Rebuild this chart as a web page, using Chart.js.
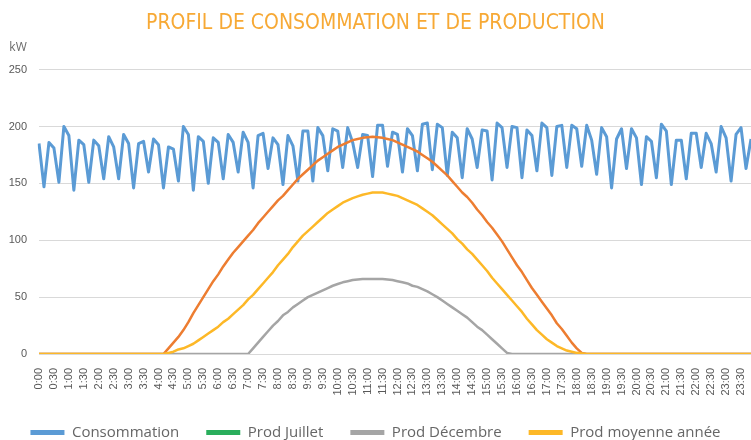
<!DOCTYPE html>
<html>
<head>
<meta charset="utf-8">
<script src="https://cdn.jsdelivr.net/npm/chart.js@4"></script>
<style>
	html, body { margin: 0; padding: 0; background: #fff; }
	#wrap { width: 751px; height: 440px; }
</style>
</head>
<body>
<div id="wrap"><canvas id="chart"></canvas></div>
<script>
'use strict';

// one slot every 10 minutes, a tick label every 30 minutes
const times = [
	'0:00','0:10','0:20','0:30','0:40','0:50', '1:00','1:10','1:20','1:30','1:40','1:50',
	'2:00','2:10','2:20','2:30','2:40','2:50', '3:00','3:10','3:20','3:30','3:40','3:50',
	'4:00','4:10','4:20','4:30','4:40','4:50', '5:00','5:10','5:20','5:30','5:40','5:50',
	'6:00','6:10','6:20','6:30','6:40','6:50', '7:00','7:10','7:20','7:30','7:40','7:50',
	'8:00','8:10','8:20','8:30','8:40','8:50', '9:00','9:10','9:20','9:30','9:40','9:50',
	'10:00','10:10','10:20','10:30','10:40','10:50', '11:00','11:10','11:20','11:30','11:40','11:50',
	'12:00','12:10','12:20','12:30','12:40','12:50', '13:00','13:10','13:20','13:30','13:40','13:50',
	'14:00','14:10','14:20','14:30','14:40','14:50', '15:00','15:10','15:20','15:30','15:40','15:50',
	'16:00','16:10','16:20','16:30','16:40','16:50', '17:00','17:10','17:20','17:30','17:40','17:50',
	'18:00','18:10','18:20','18:30','18:40','18:50', '19:00','19:10','19:20','19:30','19:40','19:50',
	'20:00','20:10','20:20','20:30','20:40','20:50', '21:00','21:10','21:20','21:30','21:40','21:50',
	'22:00','22:10','22:20','22:30','22:40','22:50', '23:00','23:10','23:20','23:30','23:40','23:50',
];

const consommation = [
	185,147,186,181,151,200,192,144,188,184,151,188,183,154,191,182,154,193,
	185,146,185,187,160,189,184,146,182,180,152,200,193,144,191,187,150,190,
	186,154,193,186,160,195,186,146,192,194,163,190,184,149,192,183,152,196,
	196,152,199,192,161,198,196,164,199,186,164,193,192,156,201,201,165,
	195,193,160,198,192,161,202,203,162,202,199,157,195,190,155,198,189,164,
	197,196,153,203,199,164,200,199,155,197,192,161,203,199,157,200,201,164,
	201,198,165,201,188,158,199,191,146,189,198,163,198,190,149,191,187,155,
	202,196,149,188,188,154,194,194,164,194,185,160,200,190,152,193,199,163,189,
];

const prodJuillet = [
	0,0,0,0,0,0,0,0,0,0,0,0,0,0,0,0,0,0,0,0,0,0,0,0,0,
	0,5,10,15,21,28,36,43,50,57,64,70,77,83,89,94,99,104,109,115,120,125,130,135,
	139,144,149,154,158,162,166,170,173,176,179,182,184,186,188,189,190,190.5,191,190.5,
	190,189,188,186,184,182,180,178,175,172,169,165,161,157,152,147,142,138,133,127,
	122,116,111,105,99,92,85,78,72,65,58,52,46,40,34,27,22,16,10,5,1,0,
	0,0,0,0,0,0,0,0,0,0,0,0,0,0,0,0,0,0,0,0,0,0,0,0,0,0,0,0,0,0,0,0,0,
];

const prodDecembre = [
	0,0,0,0,0,0,0,0,0,0,0,0,0,0,0,0,0,0,0,0,0,0,0,0,0,0,0,0,0,0,0,0,0,0,0,0,
	0,0,0,0,0,0,0,5,10,15,20,25,29,34,37,41,44,47,50,52,54,56,58,60,61.5,63,
	64,65,65.5,66,66,66,66,66,65.5,65,64,63,62,60,59,57,55,52.5,50,47,44,41,
	38,35,32,28,24,21,17,13,9,5,1,0,
	0,0,0,0,0,0,0,0,0,0,0,0,0,0,0,0,0,0,0,0,0,0,0,0,0,
	0,0,0,0,0,0,0,0,0,0,0,0,0,0,0,0,0,0,0,0,0,0,0,0,
];

const prodMoyenne = [
	0,0,0,0,0,0,0,0,0,0,0,0,0,0,0,0,0,0,0,0,0,0,0,0,0,
	0,1,2,4,5,7,9,12,15,18,21,24,28,31,35,39,43,48,52,57,62,67,72,78,
	83,88,94,99,104,108,112,116,120,124,127,130,133,135,137,138.5,140,141,142,142,
	142,141,140,139,137,135,133,131,128,125,122,118,114,110,106,101,97,92,88,83,
	78,73,67,62,57,52,47,42,37,31,26,21,17,13,10,7,5,3,2,1,0.5,0,
	0,0,0,0,0,0,0,0,0,0,0,0,0,0,0,0,0,0,0,0,0,0,0,0,0,0,0,0,0,0,0,0,0,
];

const seriesNames = ['Consommation', 'Prod Juillet', 'Prod Décembre', 'Prod moyenne année'];
const lineColors = ['#5B9BD5', '#ED7D31', '#A5A5A5', '#FDB827'];
const legendColors = ['#5B9BD5', '#2AAE5C', '#A5A5A5', '#FDB827'];

function lineSet(ix, data, width) {
	return {
		label: seriesNames[ix],
		data: data,
		borderColor: lineColors[ix],
		backgroundColor: lineColors[ix],
		borderWidth: width,
		pointRadius: 0,
		borderJoinStyle: 'round',
		tension: 0,
		order: 4 - ix, // later series are painted on top, as in the original
	};
}

const config = {
	type: 'line',
	data: {
		labels: times,
		datasets: [
			lineSet(0, consommation, 3),
			lineSet(1, prodJuillet, 2.5),
			lineSet(2, prodDecembre, 2.5),
			lineSet(3, prodMoyenne, 2.5),
		],
	},
	options: {
		responsive: false,
		animation: false,
		layout: {padding: {left: 0, right: 0, top: 0, bottom: -10}},
		plugins: {
			title: {
				display: true,
				text: 'PROFIL DE CONSOMMATION ET DE PRODUCTION',
				color: '#F7A935',
				font: {family: "'DejaVu Sans Condensed', sans-serif", size: 21, weight: 'normal', lineHeight: 1.2},
				padding: {top: 11, bottom: 0},
			},
			subtitle: {
				display: true,
				text: '   kW',
				align: 'start',
				color: '#6B6B6B',
				font: {family: "'Open Sans', sans-serif", size: 12, lineHeight: 1.2},
				padding: {top: 4, bottom: 15},
			},
			legend: {
				position: 'bottom',
				labels: {
					boxWidth: 34,
					boxHeight: 5,
					padding: 27,
					color: '#666',
					font: {family: "'Open Sans', sans-serif", size: 15},
					sort: (a, b) => a.datasetIndex - b.datasetIndex,
					generateLabels(chart) {
						let items = Chart.defaults.plugins.legend.labels.generateLabels(chart);
						items.forEach(item => {
							item.fillStyle = legendColors[item.datasetIndex];
							item.strokeStyle = legendColors[item.datasetIndex];
							item.lineWidth = 0;
						});
						return items;
					},
				},
			},
			tooltip: {enabled: false},
		},
		scales: {
			x: {
				grid: {display: false},
				border: {display: false},
				ticks: {
					autoSkip: false,
					minRotation: 90,
					maxRotation: 90,
					padding: 6,
					color: '#595959',
					font: {family: "'Liberation Sans', sans-serif", size: 11},
					callback: function(value, index) {
						return index % 3 === 0 ? times[index] : '';
					},
				},
				afterFit: function(scale) {
					scale.height = 44;
					scale.paddingLeft = 0;
					scale.paddingRight = 0;
				},
			},
			y: {
				min: 0,
				max: 250,
				grid: {color: '#D9D9D9', lineWidth: 1, drawTicks: false},
				border: {display: false},
				ticks: {
					stepSize: 50,
					padding: 12,
					color: '#595959',
					font: {family: "'Liberation Sans', sans-serif", size: 11},
				},
				afterFit: function(scale) {
					scale.width = 39;
				},
			},
		},
	},
};

let canvas = document.getElementById('chart');
canvas.width = 751;
canvas.height = 440;
new Chart(canvas, config);
</script>
</body>
</html>
